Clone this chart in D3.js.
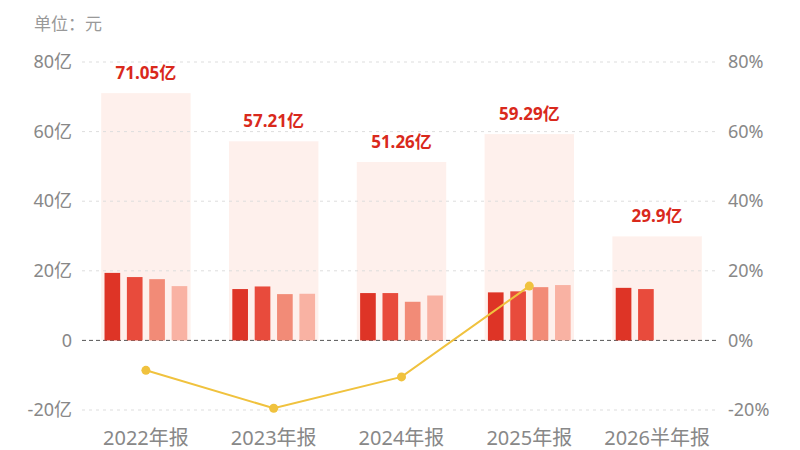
<!DOCTYPE html>
<html>
<head>
<meta charset="utf-8">
<script src="https://cdn.jsdelivr.net/npm/d3@7"></script>
<style>
  html, body { margin: 0; padding: 0; background: #fff; }
  svg { display: block; font-family: "Noto Sans", "Noto Sans CJK SC", sans-serif; }
</style>
</head>
<body>
<svg id="chart" width="800" height="450"></svg>
<script>
// data
const categories = ["2022年报", "2023年报", "2024年报", "2025年报", "2026半年报"];
const totals = [71.05, 57.21, 51.26, 59.29, 29.9];           // 亿, background bars
const totalLabels = ["71.05亿", "57.21亿", "51.26亿", "59.29亿", "29.9亿"];
const subValues = [                                            // 亿, small bars per period
    [19.4, 18.2, 17.6, 15.6],
    [14.75, 15.5, 13.3, 13.4],
    [13.6, 13.6, 11.1, 12.9],
    [13.8, 14.1, 15.3, 15.9],
    [15.1, 14.75]
];
const growth = [-8.6, -19.5, -10.5, 15.6];                     // %, right axis
const leftTicks = [-20, 0, 20, 40, 60, 80];
const rightTicks = [-20, 0, 20, 40, 60, 80];

const svg = d3.select("#chart");
const gridX0 = 82, gridX1 = 717;
const barColors = ["#de3426", "#e84b3c", "#f28b77", "#f9b2a3"];

const x = d3.scaleBand().domain(categories).range([82, 721]).paddingInner(0.3).paddingOuter(0.15);
const xSub = d3.scaleBand().domain(d3.range(4)).range([0, x.bandwidth()]).paddingInner(0.3).paddingOuter(0.15);
const y = d3.scaleLinear().domain([-20, 80]).range([410, 62]);
const yR = d3.scaleLinear().domain([-20, 80]).range([410, 62]);

// unit label
svg.append("text")
    .attr("x", 34).attr("y", 30)
    .attr("font-size", 17).attr("fill", "#999")
    .text("单位：元");

// background total bars
svg.append("g").selectAll("rect")
    .data(totals)
    .join("rect")
    .attr("x", (d, i) => x(categories[i]))
    .attr("width", x.bandwidth())
    .attr("y", d => y(d))
    .attr("height", d => y(0) - y(d))
    .attr("fill", "#fde4dc")
    .attr("opacity", 0.55);

// grid lines
svg.append("g").selectAll("line")
    .data(leftTicks)
    .join("line")
    .attr("x1", gridX0).attr("x2", gridX1)
    .attr("y1", d => y(d)).attr("y2", d => y(d))
    .attr("stroke", d => d === 0 ? "#555" : "#ddd")
    .attr("stroke-width", 1)
    .attr("stroke-dasharray", d => d === 0 ? "4,3" : "3,4");

// left axis
const leftAxis = d3.axisLeft(y).tickValues(leftTicks)
    .tickFormat(d => d === 0 ? "0" : d + "亿").tickSize(0).tickPadding(0);
svg.append("g")
    .attr("transform", `translate(72,0)`)
    .call(leftAxis)
    .call(g => g.select(".domain").remove())
    .call(g => g.selectAll("text").attr("font-size", 18).attr("fill", "#888")
        .attr("font-family", "Noto Sans, Noto Sans CJK SC, sans-serif"));

// right axis
const rightAxis = d3.axisRight(yR).tickValues(rightTicks)
    .tickFormat(d => d + "%").tickSize(0).tickPadding(0);
svg.append("g")
    .attr("transform", `translate(728,0)`)
    .call(rightAxis)
    .call(g => g.select(".domain").remove())
    .call(g => g.selectAll("text").attr("font-size", 18).attr("fill", "#888")
        .attr("font-family", "Noto Sans, Noto Sans CJK SC, sans-serif"));

// small bars
const groups = svg.append("g").selectAll("g")
    .data(subValues)
    .join("g")
    .attr("transform", (d, i) => `translate(${x(categories[i])},0)`);
groups.selectAll("rect")
    .data(d => d)
    .join("rect")
    .attr("x", (d, j) => xSub(j))
    .attr("width", xSub.bandwidth())
    .attr("y", d => y(d))
    .attr("height", d => y(0) - y(d))
    .attr("fill", (d, j) => barColors[j]);

// total labels
svg.append("g").selectAll("text")
    .data(totals)
    .join("text")
    .attr("x", (d, i) => x(categories[i]) + x.bandwidth() / 2)
    .attr("y", d => y(d) - 14)
    .attr("text-anchor", "middle")
    .attr("font-size", 17).attr("font-weight", "bold")
    .attr("fill", "#d9291c")
    .text((d, i) => totalLabels[i]);

// growth line
const line = d3.line()
    .x((d, i) => x(categories[i]) + x.bandwidth() / 2)
    .y(d => yR(d));
svg.append("path")
    .datum(growth)
    .attr("d", line)
    .attr("fill", "none")
    .attr("stroke", "#f0c23e")
    .attr("stroke-width", 2);
svg.append("g").selectAll("circle")
    .data(growth)
    .join("circle")
    .attr("cx", (d, i) => x(categories[i]) + x.bandwidth() / 2)
    .attr("cy", d => yR(d))
    .attr("r", 4.5)
    .attr("fill", "#f0c23e");

// x labels
svg.append("g").selectAll("text")
    .data(categories)
    .join("text")
    .attr("x", d => x(d) + x.bandwidth() / 2)
    .attr("y", 445)
    .attr("text-anchor", "middle")
    .attr("font-size", 20).attr("fill", "#888")
    .text(d => d);
</script>
</body>
</html>
